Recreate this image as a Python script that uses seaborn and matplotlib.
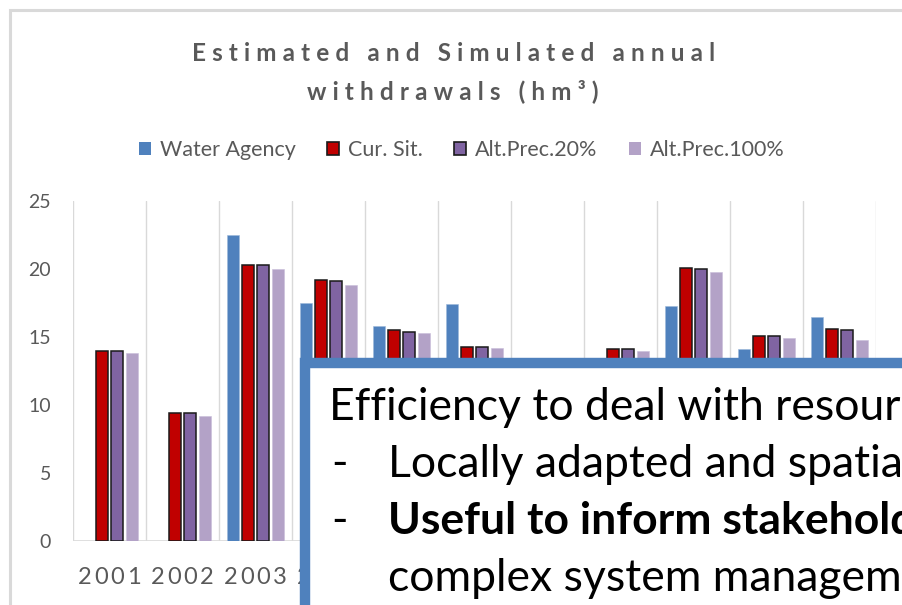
import numpy as np
import pandas as pd
import matplotlib
matplotlib.use("Agg")
import matplotlib.pyplot as plt
import seaborn as sns
from matplotlib.patches import Rectangle, Patch

# ---- data -------------------------------------------------------------
years = ["2001", "2002", "2003", "2004", "2005", "2006",
         "2007", "2008", "2009", "2010", "2011"]
water_agency = [np.nan, np.nan, 22.5, 17.5, 15.8, 17.4, np.nan, np.nan, 17.3, 14.1, 16.5]
cur_sit      = [14.0, 9.4, 20.3, 19.2, 15.5, 14.3, np.nan, 14.1, 20.1, 15.1, 15.6]
alt_prec_20  = [14.0, 9.4, 20.3, 19.1, 15.4, 14.3, np.nan, 14.1, 20.0, 15.1, 15.5]
alt_prec_100 = [13.8, 9.2, 20.0, 18.8, 15.3, 14.2, np.nan, 14.0, 19.8, 14.9, 14.8]
series = ["Water Agency", "Cur. Sit.", "Alt.Prec.20%", "Alt.Prec.100%"]
colors = ["#4F81BD", "#C00000", "#8064A2", "#B3A2C7"]
y_ticks = [0, 5, 10, 15, 20, 25]

title_lines = ["Estimated and Simulated annual", "withdrawals (hm\u00b3)"]
note_lines = [
    ("", "Efficiency to deal with resource", "normal"),
    ("-", "Locally adapted and spatial", "normal"),
    ("-", "Useful to inform stakeholders", "bold"),
    ("", "complex system management", "normal"),
]

df = pd.DataFrame({
    "year": np.tile(years, len(series)),
    "series": np.repeat(series, len(years)),
    "value": water_agency + cur_sit + alt_prec_20 + alt_prec_100,
})

# ---- style ------------------------------------------------------------
sns.set_style("white")
plt.rcParams["font.family"] = ["Lato", "DejaVu Sans"]
GRAY = "#595959"
GRID = "#D9D9D9"

W, H = 902, 605
fig = plt.figure(figsize=(W / 100, H / 100), dpi=100)
fig.patch.set_facecolor("white")


def fx(px):
    return px / W


def fy(py):
    return 1 - py / H


BOX_LEFT = 305   # x of the note box border (pixels)
BOX_TOP = 363    # y of the note box border (pixels)

# plot area: x from 72.7 px, one category = 73 px, y 0..25 -> 541..201 px
ax = fig.add_axes([fx(72.7), fy(541), 73 * len(years) / W, 340 / H])

sns.barplot(data=df, x="year", y="value", hue="series", order=years,
            hue_order=series, palette=colors, saturation=1, width=0.82,
            gap=0.2, legend=False, ax=ax, zorder=2)

edge_styles = [("#9DB8DA", 0.4), ("#1A1A1A", 1.1), ("#1A1A1A", 1.1), ("#C9BEDA", 0.4)]
for cont, (ec, lw) in zip(ax.containers, edge_styles):
    for bar in cont:
        bar.set_edgecolor(ec)
        bar.set_linewidth(lw)

ax.set_xlim(-0.5, len(years) - 0.5)
ax.set_ylim(0, 25)
for s in ax.spines.values():
    s.set_visible(False)
for b in np.arange(-0.5, len(years)):
    ax.axvline(b, color=GRID, lw=1.0, zorder=1)
ax.axhline(0, color=GRID, lw=1.2, zorder=1)

ax.set_yticks(y_ticks)
ax.set_yticklabels([str(v) for v in y_ticks])
ax.tick_params(axis="y", length=6.5, width=0.9, color=GRID,
               labelsize=14, labelcolor=GRAY, pad=9)
ax.set_xticks([])
ax.set_xlabel("")
ax.set_ylabel("")

# letter-spaced year labels under each category (those under the note box
# are hidden by it, so only the visible characters are drawn)
adv = 11.9       # points between digit centres
char_w = 13.0    # approximate digit width in pixels
fig.canvas.draw()
to_px = ax.transData
for i, yr in enumerate(years):
    cx = to_px.transform((i, 0))[0]
    for k, ch in enumerate(yr):
        dx_pt = (k - (len(yr) - 1) / 2) * adv
        left_px = cx + dx_pt * 100 / 72 - char_w / 2
        if left_px >= BOX_LEFT - 2:
            continue
        ax.annotate(ch, xy=(i, 0), xycoords="data",
                    xytext=(dx_pt, -31), textcoords="offset points",
                    ha="center", va="baseline", fontsize=17, color=GRAY,
                    annotation_clip=False)

# title with wide tracking
def tracked(s):
    return "\u2005".join(list(s))

fig.text(fx(454), fy(61), tracked(title_lines[0]), ha="center", va="baseline",
         fontsize=17.5, fontweight="bold", color=GRAY)
fig.text(fx(453), fy(99), tracked(title_lines[1]), ha="center", va="baseline",
         fontsize=17.5, fontweight="bold", color=GRAY)

# legend
handles = [Patch(facecolor=c, edgecolor=e, linewidth=lw)
           for c, (e, lw) in zip(colors, [("none", 0), ("#1A1A1A", 1.2),
                                          ("#1A1A1A", 1.2), ("none", 0)])]
fig.legend(handles, series, loc="center", bbox_to_anchor=(fx(462), fy(150)),
           ncol=4, frameon=False, fontsize=15.5, handlelength=0.55,
           handleheight=0.55, handletextpad=0.42, columnspacing=1.45,
           labelcolor=GRAY)

# outer chart frame
fig.add_artist(Rectangle((fx(9.5), -0.5), 2.0, fy(9.5) + 0.5,
                         transform=fig.transFigure, fill=False,
                         ec=GRID, lw=2.2, zorder=3, clip_on=False))

# overlaid note box
fig.add_artist(Rectangle((fx(BOX_LEFT), -0.5), 2.0, fy(BOX_TOP) + 0.5,
                         transform=fig.transFigure, fc="white",
                         ec="#4F81BD", lw=7.5, zorder=10, clip_on=False))
for n, (bullet, text, weight) in enumerate(note_lines):
    base = 420 + 57 * n
    if bullet:
        fig.text(fx(331), fy(base), bullet, ha="left", va="baseline",
                 fontsize=32, color="black", zorder=11)
    x0 = 329 if (n == 0) else 388
    fig.text(fx(x0), fy(base), text, ha="left", va="baseline",
             fontsize=32, fontweight=weight, color="black", zorder=11)

fig.savefig("out.png", dpi=100)
